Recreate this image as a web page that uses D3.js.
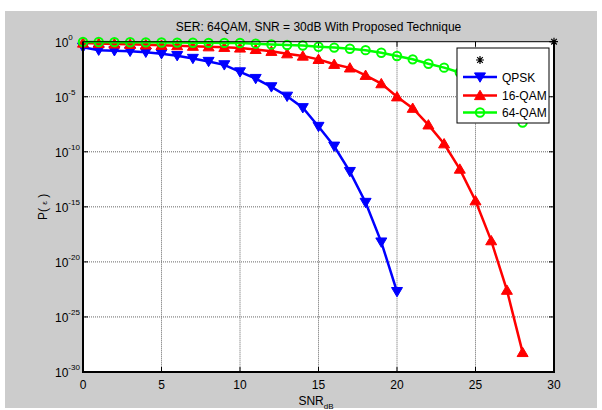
<!DOCTYPE html>
<meta charset='utf-8'>
<style>
	body { margin: 0; background: #fff; }
	svg { display: block; font-family: 'Liberation Sans', Arial, sans-serif; }
</style>
<body>
	<div id='container'></div>
<script src='https://d3js.org/d3.v7.min.js'></script>
<script>
    // SNR points (dB)
    const snrQpsk = d3.range( 0, 21 );
    const snr16 = d3.range( 0, 29 );
    const snr64 = d3.range( 0, 29 );

    // symbol error rate
    const serQpsk = [3.2e-1, 1.7e-1, 1.5e-1, 1.35e-1, 1.1e-1, 8.1e-2, 5.4e-2, 3.0e-2, 1.6e-2, 7.9e-3,
        1.8e-3, 4.5e-4, 7.9e-5, 1.1e-5, 1.0e-6, 2.0e-8, 3.2e-10, 1.6e-12, 2.5e-15, 6.3e-19, 2.0e-23];
    const ser16 = [7.6e-1, 6.9e-1, 6.3e-1, 5.8e-1, 5.2e-1, 4.8e-1, 4.4e-1, 3.9e-1, 3.5e-1, 3.1e-1,
        2.7e-1, 2.0e-1, 1.35e-1, 8.1e-2, 5.0e-2, 2.5e-2, 8.9e-3, 4.2e-3, 8.9e-4, 1.55e-4,
        1.0e-5, 9.1e-7, 2.8e-8, 5.4e-10, 2.7e-12, 3.6e-15, 8.5e-19, 2.7e-23, 6.0e-29];
    const ser64 = [9.5e-1, 9.3e-1, 9.1e-1, 8.9e-1, 8.7e-1, 8.5e-1, 8.3e-1, 8.1e-1, 7.9e-1, 7.8e-1,
        7.6e-1, 6.6e-1, 5.6e-1, 5.0e-1, 4.5e-1, 3.5e-1, 2.9e-1, 2.3e-1, 1.7e-1, 1.0e-1,
        5.0e-2, 2.5e-2, 1.0e-2, 4.4e-3, 1.6e-3, 4.0e-4, 6.3e-5, 5.0e-6, 4.5e-8];
    // lone '*' point
    const starPoint = [[30, 1]];

    const xTicks = [0, 5, 10, 15, 20, 25, 30];
    const yTickExps = [0, -5, -10, -15, -20, -25, -30];
    const legendLabels = ['', 'QPSK', '16-QAM', '64-QAM'];

    const W = 602, H = 410,
        plot = { left: 83, right: 554, top: 41.7, bottom: 372 };

    let svg = d3.select( '#container' )
        .append( 'svg' )
        .attr( 'width', W )
        .attr( 'height', H );

    // figure background
    svg.append( 'rect' )
        .attr( 'x', 5 ).attr( 'y', 11 )
        .attr( 'width', 592 ).attr( 'height', 397 )
        .attr( 'fill', '#cccccc' );

    svg.append( 'rect' )
        .attr( 'x', plot.left ).attr( 'y', plot.top )
        .attr( 'width', plot.right - plot.left ).attr( 'height', plot.bottom - plot.top )
        .attr( 'fill', '#fff' );

    let xScale = d3.scaleLinear()
        .domain( [0, 30] )
        .range( [plot.left, plot.right] );
    let yScale = d3.scaleLog()
        .domain( [1e-30, 1] )
        .range( [plot.bottom, plot.top] );

    const yTickVals = yTickExps.map( e => Math.pow( 10, e ) );

    // grid
    let grid = svg.append( 'g' )
        .attr( 'stroke', '#666' )
        .attr( 'stroke-width', 1 )
        .attr( 'stroke-dasharray', '1,1' );
    grid.selectAll( 'line.gx' )
        .data( xTicks.slice( 1, -1 ) )
        .enter().append( 'line' )
            .attr( 'x1', d => xScale( d ) ).attr( 'x2', d => xScale( d ) )
            .attr( 'y1', plot.top ).attr( 'y2', plot.bottom );
    grid.selectAll( 'line.gy' )
        .data( yTickVals.slice( 1, -1 ) )
        .enter().append( 'line' )
            .attr( 'y1', d => yScale( d ) ).attr( 'y2', d => yScale( d ) )
            .attr( 'x1', plot.left ).attr( 'x2', plot.right );

    // inner ticks on all four sides
    let ticks = svg.append( 'g' ).attr( 'stroke', '#000' ).attr( 'stroke-width', 1 );
    xTicks.forEach( t => {
        ticks.append( 'line' ).attr( 'x1', xScale( t ) ).attr( 'x2', xScale( t ) )
            .attr( 'y1', plot.bottom ).attr( 'y2', plot.bottom - 5 );
        ticks.append( 'line' ).attr( 'x1', xScale( t ) ).attr( 'x2', xScale( t ) )
            .attr( 'y1', plot.top ).attr( 'y2', plot.top + 5 );
    } );
    yTickVals.forEach( t => {
        ticks.append( 'line' ).attr( 'y1', yScale( t ) ).attr( 'y2', yScale( t ) )
            .attr( 'x1', plot.left ).attr( 'x2', plot.left + 5 );
        ticks.append( 'line' ).attr( 'y1', yScale( t ) ).attr( 'y2', yScale( t ) )
            .attr( 'x1', plot.right ).attr( 'x2', plot.right - 5 );
    } );

    // data
    svg.append( 'defs' ).append( 'clipPath' )
        .attr( 'id', 'bounds' )
        .append( 'rect' )
            .attr( 'x', plot.left - 8 ).attr( 'y', plot.top - 8 )
            .attr( 'width', plot.right - plot.left + 16 ).attr( 'height', plot.bottom - plot.top + 8 );

    const series = [
        { x: snrQpsk, y: serQpsk, color: '#0000ff', marker: 'down' },
        { x: snr16, y: ser16, color: '#ff0000', marker: 'up' },
        { x: snr64, y: ser64, color: '#00ff00', marker: 'circle' },
    ];

    const line = d3.line()
        .x( d => xScale( d[0] ) )
        .y( d => yScale( d[1] ) );

    const tri = ( dir ) => {
        const s = 5.5;
        return dir === 'down'
            ? `M${-s},${-s * 0.75}L${s},${-s * 0.75}L0,${s * 0.95}Z`
            : `M${-s},${s * 0.75}L${s},${s * 0.75}L0,${-s * 0.95}Z`;
    };
    const star = 'M-4,0L4,0M0,-4L0,4M-2.8,-2.8L2.8,2.8M-2.8,2.8L2.8,-2.8';

    const drawMarker = ( g, type, color, cx, cy ) => {
        if ( type === 'circle' ) {
            g.append( 'circle' ).attr( 'cx', cx ).attr( 'cy', cy ).attr( 'r', 4.2 )
                .attr( 'fill', 'none' ).attr( 'stroke', color ).attr( 'stroke-width', 2 );
        } else if ( type === 'star' ) {
            g.append( 'path' ).attr( 'd', star ).attr( 'transform', `translate(${cx},${cy})` )
                .attr( 'fill', 'none' ).attr( 'stroke', '#000' ).attr( 'stroke-width', 1.2 );
        } else {
            g.append( 'path' ).attr( 'd', tri( type ) ).attr( 'transform', `translate(${cx},${cy})` )
                .attr( 'fill', color ).attr( 'stroke', color ).attr( 'stroke-width', 1 );
        }
    };

    let dataG = svg.append( 'g' ).attr( 'clip-path', 'url(#bounds)' );
    series.forEach( s => {
        const pts = s.x.map( ( x, i ) => [x, s.y[i]] );
        dataG.append( 'path' )
            .datum( pts )
            .attr( 'fill', 'none' )
            .attr( 'stroke', s.color )
            .attr( 'stroke-width', 2.5 )
            .attr( 'd', line );
        pts.forEach( p => drawMarker( dataG, s.marker, s.color, xScale( p[0] ), yScale( p[1] ) ) );
    } );
    starPoint.forEach( p => drawMarker( svg, 'star', '#000', xScale( p[0] ), yScale( p[1] ) ) );

    // axes box
    svg.append( 'rect' )
        .attr( 'x', plot.left ).attr( 'y', plot.top )
        .attr( 'width', plot.right - plot.left ).attr( 'height', plot.bottom - plot.top )
        .attr( 'fill', 'none' ).attr( 'stroke', '#000' ).attr( 'stroke-width', 1 );
    svg.append( 'path' )
        .attr( 'd', `M${plot.left},${plot.top}V${plot.bottom}H${plot.right}V${plot.top}` )
        .attr( 'fill', 'none' ).attr( 'stroke', '#000' ).attr( 'stroke-width', 2 );

    // tick labels
    svg.append( 'g' ).selectAll( 'text' )
        .data( xTicks )
        .enter().append( 'text' )
            .attr( 'x', d => xScale( d ) )
            .attr( 'y', plot.bottom + 17 )
            .attr( 'text-anchor', 'middle' )
            .attr( 'font-size', 12 )
            .text( d => d );

    let yLab = svg.append( 'g' ).selectAll( 'text' )
        .data( yTickExps )
        .enter().append( 'text' )
            .attr( 'x', 55 )
            .attr( 'y', d => yScale( Math.pow( 10, d ) ) + 5 )
            .attr( 'font-size', 12 );
    yLab.append( 'tspan' ).text( '10' );
    yLab.append( 'tspan' ).attr( 'dy', -7 ).attr( 'font-size', 8 ).text( d => d );

    // title and axis labels
    svg.append( 'text' )
        .attr( 'x', ( plot.left + plot.right ) / 2 )
        .attr( 'y', 31 )
        .attr( 'text-anchor', 'middle' )
        .attr( 'font-size', 12 )
        .text( 'SER: 64QAM, SNR = 30dB With Proposed Technique' );

    let xl = svg.append( 'text' )
        .attr( 'x', 316 )
        .attr( 'y', 405 )
        .attr( 'text-anchor', 'middle' )
        .attr( 'font-size', 12 );
    xl.append( 'tspan' ).text( 'SNR' );
    xl.append( 'tspan' ).attr( 'dy', 4 ).attr( 'font-size', 8 ).text( 'dB' );

    let yl = svg.append( 'text' )
        .attr( 'transform', `translate(47, ${( plot.top + plot.bottom ) / 2}) rotate(-90)` )
        .attr( 'text-anchor', 'middle' )
        .attr( 'font-size', 12 );
    yl.append( 'tspan' ).text( 'P( ' );
    yl.append( 'tspan' ).attr( 'font-size', 8 ).text( 'ε' );
    yl.append( 'tspan' ).text( ' )' );

    // legend
    const leg = { x: 457, y: 48, w: 92, h: 75 };
    let lg = svg.append( 'g' );
    lg.append( 'rect' )
        .attr( 'x', leg.x ).attr( 'y', leg.y )
        .attr( 'width', leg.w ).attr( 'height', leg.h )
        .attr( 'fill', '#fff' ).attr( 'stroke', '#000' ).attr( 'stroke-width', 1 );
    const legRows = [60, 77, 95.5, 112.5];
    const legSeries = [{ marker: 'star', color: '#000' }].concat( series );
    legSeries.forEach( ( s, i ) => {
        const cy = legRows[i];
        if ( s.marker !== 'star' ) {
            lg.append( 'line' )
                .attr( 'x1', 463 ).attr( 'x2', 497 )
                .attr( 'y1', cy ).attr( 'y2', cy )
                .attr( 'stroke', s.color ).attr( 'stroke-width', 2.5 );
        }
        drawMarker( lg, s.marker, s.color, 480, cy );
        lg.append( 'text' )
            .attr( 'x', 502 ).attr( 'y', cy + 4.5 )
            .attr( 'font-size', 12 )
            .text( legendLabels[i] );
    } );
</script>
</body>
